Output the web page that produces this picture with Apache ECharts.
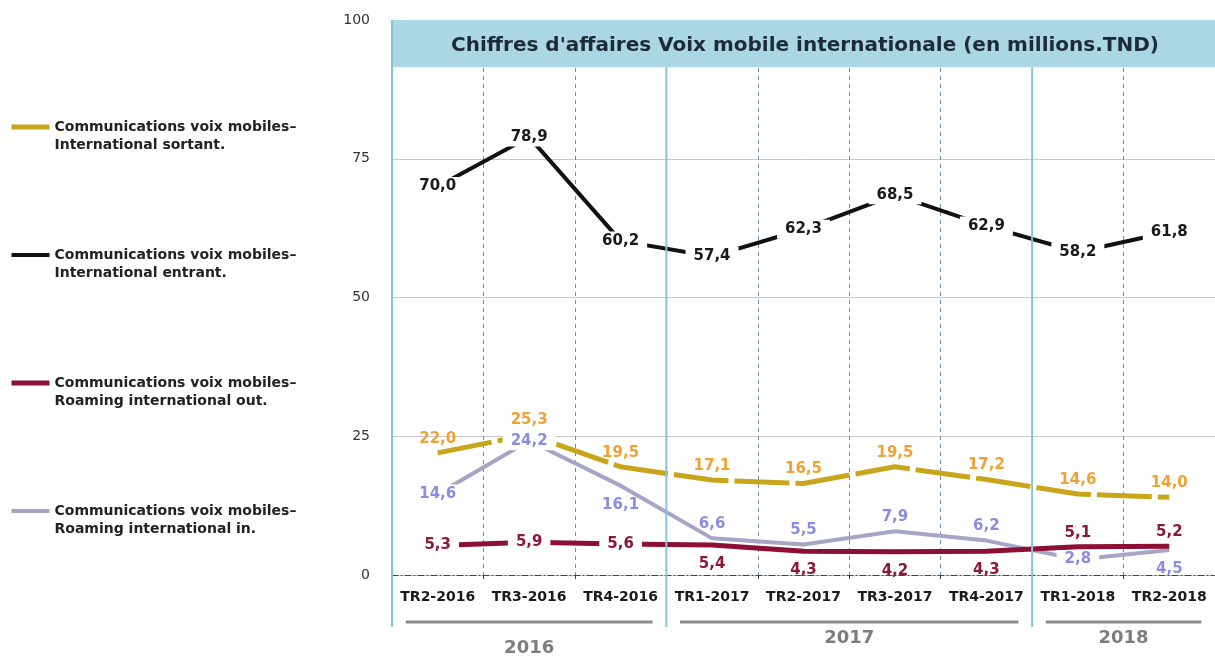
<!DOCTYPE html>
<html>
<head>
<meta charset="utf-8">
<script src="https://cdn.jsdelivr.net/npm/echarts@6/dist/echarts.min.js"></script>
<style>
  html, body { margin: 0; padding: 0; background: #fff; }
  #chart { width: 1215px; height: 656px; }
</style>
</head>
<body>
<div id="chart"></div>
<script>
const quarters = ['TR2-2016', 'TR3-2016', 'TR4-2016', 'TR1-2017', 'TR2-2017', 'TR3-2017', 'TR4-2017', 'TR1-2018', 'TR2-2018']
const years = ['2016', '2017', '2018']
const yearSpans = [3, 4, 2]

const sortant = [22.0, 25.3, 19.5, 17.1, 16.5, 19.5, 17.2, 14.6, 14.0]
const entrant = [70.0, 78.9, 60.2, 57.4, 62.3, 68.5, 62.9, 58.2, 61.8]
const roamingOut = [5.3, 5.9, 5.6, 5.4, 4.3, 4.2, 4.3, 5.1, 5.2]
const roamingIn = [14.6, 24.2, 16.1, 6.6, 5.5, 7.9, 6.2, 2.8, 4.5]

const yTicks = [0, 25, 50, 75, 100]
const titleBandFrom = 91.5

// where each value label sits relative to its point
const sortantLabelPos = ['top', 'top', 'top', 'top', 'top', 'top', 'top', 'top', 'top']
const entrantLabelPos = ['inside', 'inside', 'inside', 'inside', 'inside', 'inside', 'inside', 'inside', 'inside']
const roamingOutLabelPos = ['inside', 'inside', 'inside', 'bottom', 'bottom', 'bottom', 'bottom', 'top', 'top']
const roamingInLabelPos = ['inside', 'inside', 'bottom', 'top', 'top', 'top', 'top', 'inside', 'bottom']
const yearLabelDy = [10, 0, 0]

const FONT = '"DejaVu Sans", "Open Sans", sans-serif'
const chart = echarts.init(document.getElementById('chart'))

const names = {
  sortant: '\nCommunications voix mobiles–\nInternational sortant.',
  entrant: '\nCommunications voix mobiles–\nInternational entrant.',
  out: '\nCommunications voix mobiles–\nRoaming international out.',
  in: '\nCommunications voix mobiles–\nRoaming international in.'
}

function fmt(v) {
  return v.toFixed(1).replace('.', ',')
}

function lineSeries(name, values, lineColor, width, dashed, z) {
  return {
    name,
    type: 'line',
    z,
    symbol: 'none',
    lineStyle: { width, color: lineColor, type: dashed ? [55, 6] : 'solid', cap: 'butt' },
    itemStyle: { color: lineColor },
    data: values,
    emphasis: { disabled: true }
  }
}

// invisible copy of a series that only carries its value labels, drawn above every line
function labelSeries(values, positions, labelColor) {
  return {
    type: 'line',
    z: 20,
    symbol: 'circle',
    symbolSize: 1,
    showSymbol: true,
    lineStyle: { width: 0, color: 'transparent' },
    itemStyle: { color: 'transparent' },
    silent: true,
    data: values.map((v, i) => ({
      value: v,
      label: {
        position: positions[i],
        distance: positions[i] === 'bottom' ? 11 : 6,
        backgroundColor: positions[i] === 'inside' ? '#fff' : 'transparent',
        padding: positions[i] === 'inside' ? [2, 8] : 0
      }
    })),
    label: {
      show: true,
      color: labelColor,
      fontFamily: FONT,
      fontWeight: 'bold',
      fontSize: 15,
      formatter: p => fmt(p.value)
    },
    emphasis: { disabled: true }
  }
}

chart.setOption({
  animation: false,
  textStyle: { fontFamily: FONT },
  title: {
    text: "Chiffres d'affaires Voix mobile internationale (en millions.TND)",
    left: 800,
    top: 31,
    textAlign: 'center',
    textStyle: { fontFamily: FONT, fontWeight: 'bold', fontSize: 20, color: '#1d2a3a' }
  },
  legend: {
    orient: 'vertical',
    left: 4,
    top: 95,
    itemWidth: 38,
    itemHeight: 5,
    itemGap: 74,
    lineStyle: { width: 'inherit' },
    itemStyle: { opacity: 0 },
    textStyle: {
      fontFamily: FONT,
      fontWeight: 'bold',
      fontSize: 14,
      color: '#222',
      lineHeight: 18
    },
    data: [names.sortant, names.entrant, names.out, names.in]
  },
  grid: { left: 392, right: 0, top: 20, bottom: 81 },
  xAxis: [
    {
      type: 'category',
      data: quarters,
      boundaryGap: true,
      axisLine: { lineStyle: { color: '#444', width: 1, type: [6, 3, 1, 3] } },
      axisTick: { show: true, length: 4, lineStyle: { color: '#444' } },
      axisLabel: { color: '#1a1a1a', fontWeight: 'bold', fontSize: 14, margin: 15, interval: 0 },
      splitLine: { show: true, interval: 0, lineStyle: { color: '#6d8ca6', type: [4, 4], width: 1 } }
    },
    { type: 'value', min: 0, max: quarters.length, show: false }
  ],
  yAxis: {
    type: 'value',
    min: 0,
    max: 100,
    interval: 25,
    axisLine: { show: false },
    axisTick: { show: false },
    axisLabel: { color: '#333', fontSize: 14, margin: 22 },
    splitLine: { lineStyle: { color: '#c8c8c8', width: 1 } }
  },
  series: [
    Object.assign(lineSeries(names.in, roamingIn, '#a7a5c6', 4, false, 2), {
      markArea: {
        silent: true,
        itemStyle: { color: '#abd6e3' },
        data: [[{ yAxis: titleBandFrom }, { yAxis: yTicks[yTicks.length - 1] }]]
      }
    }),
    lineSeries(names.out, roamingOut, '#8e0f35', 5, false, 3),
    lineSeries(names.sortant, sortant, '#c9a51b', 5, true, 4),
    lineSeries(names.entrant, entrant, '#111', 4, false, 5),
    labelSeries(roamingIn, roamingInLabelPos, '#8c8ce0'),
    labelSeries(roamingOut, roamingOutLabelPos, '#8a1836'),
    labelSeries(sortant, sortantLabelPos, '#eea233'),
    labelSeries(entrant, entrantLabelPos, '#1a1a1a')
  ]
})

function drawYearGroups() {
  const px = v => chart.convertToPixel({ xAxisIndex: 1 }, v)
  const py = v => chart.convertToPixel({ yAxisIndex: 0 }, v)
  const zero = py(0)
  const top = py(yTicks[yTicks.length - 1])
  const bandBottom = py(titleBandFrom)
  const graphics = []
  graphics.push({
    type: 'line', z: 10,
    shape: { x1: px(0), y1: top, x2: px(0), y2: zero + 52 },
    style: { stroke: '#86c4da', lineWidth: 2 }
  })
  let start = 0
  years.forEach((year, i) => {
    const end = start + yearSpans[i]
    if (end < quarters.length) {
      graphics.push({
        type: 'line', z: 10,
        shape: { x1: px(end), y1: bandBottom, x2: px(end), y2: zero + 52 },
        style: { stroke: '#86c4da', lineWidth: 2 }
      })
    }
    graphics.push({
      type: 'line', z: 10,
      shape: { x1: px(start + 0.15), y1: zero + 47, x2: px(end - 0.15), y2: zero + 47 },
      style: { stroke: '#8a8a8a', lineWidth: 3 }
    })
    graphics.push({
      type: 'text', z: 10,
      x: px((start + end) / 2),
      y: zero + 63 + yearLabelDy[i],
      style: {
        text: year, fill: '#7d7d7d', font: 'bold 18px ' + FONT,
        align: 'center', verticalAlign: 'middle'
      }
    })
    start = end
  })
  chart.setOption({ graphic: graphics })
}

drawYearGroups()
</script>
</body>
</html>
